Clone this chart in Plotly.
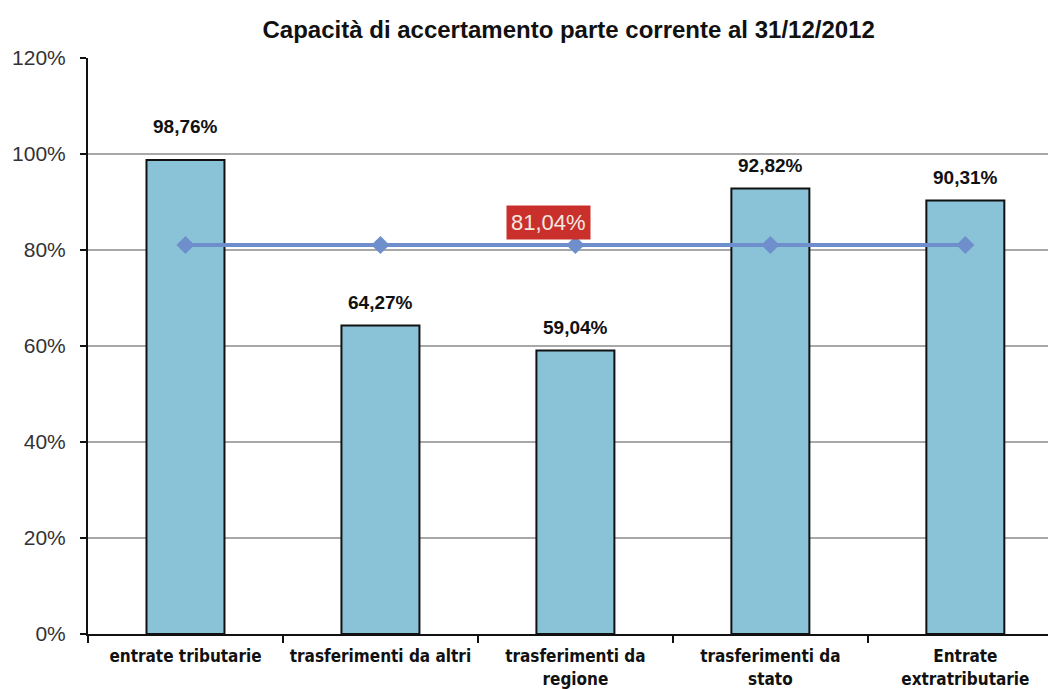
import plotly.graph_objects as go

categories = ["entrate tributarie", "trasferimenti da altri", "trasferimenti da<br>regione",
              "trasferimenti da<br>stato", "Entrate<br>extratributarie"]
values = [98.76, 64.27, 59.04, 92.82, 90.31]
value_labels = ["98,76%", "64,27%", "59,04%", "92,82%", "90,31%"]
average = [81.04, 81.04, 81.04, 81.04, 81.04]
average_label = "81,04%"
y_ticks = [0, 20, 40, 60, 80, 100, 120]
y_tick_labels = ["0%", "20%", "40%", "60%", "80%", "100%", "120%"]
title = "Capacità di accertamento parte corrente al 31/12/2012"

FONT = "Liberation Sans, Arial, sans-serif"

fig = go.Figure()
fig.add_trace(go.Bar(
    x=categories, y=values, width=0.4,
    marker=dict(color="#8AC3D8", line=dict(color="#111111", width=2)),
    hoverinfo="skip",
))
fig.add_trace(go.Scatter(
    x=categories, y=average, mode="lines+markers",
    line=dict(color="#6E8FCB", width=4),
    marker=dict(symbol="diamond", size=14, color="#6E8FCB"),
    hoverinfo="skip",
))

for i, (v, lab) in enumerate(zip(values, value_labels)):
    fig.add_annotation(x=i, y=v, text="<b>" + lab + "</b>", showarrow=False,
                       yanchor="middle", yshift=33 if v > 95 else 23,
                       font=dict(family=FONT, size=19, color="#111111"))

fig.add_annotation(x=2, y=average[2], text=average_label, showarrow=False,
                   yanchor="middle", yshift=23, xshift=-27,
                   bgcolor="#C9302C", borderpad=4,
                   font=dict(family=FONT, size=22, color="#F4E8E0"))

fig.update_layout(
    width=1048, height=681,
    margin=dict(l=80, r=0, t=50, b=55, autoexpand=False),
    paper_bgcolor="white", plot_bgcolor="white",
    showlegend=False,
    title=dict(text="<b>" + title + "</b>", x=0.535, xanchor="center", y=0.98, yanchor="top",
               font=dict(family=FONT, size=24, color="#111111")),
    bargap=0.6,
)
fig.update_xaxes(
    type="category", tickson="boundaries",
    range=[-0.5, 4.465], showgrid=False, automargin=False,
    showline=True, linecolor="#111111", linewidth=2,
    ticks="outside", ticklen=7, tickcolor="#111111", tickwidth=2,
    ticklabelstandoff=6,
    tickfont=dict(family="DejaVu Sans Condensed, Liberation Sans Narrow, Liberation Sans, sans-serif",
                  size=17, color="#111111", weight="bold"),
    zeroline=False,
)
fig.update_yaxes(
    range=[0, 120], tickmode="array", tickvals=y_ticks, ticktext=y_tick_labels,
    showgrid=True, gridcolor="#A8A8A8", gridwidth=2, automargin=False,
    showline=True, linecolor="#111111", linewidth=2,
    ticks="outside", ticklen=6, tickcolor="#111111", tickwidth=2,
    ticklabelstandoff=10,
    tickfont=dict(family=FONT, size=21, color="#333333"),
    zeroline=False,
)

fig.write_html("out.html")
